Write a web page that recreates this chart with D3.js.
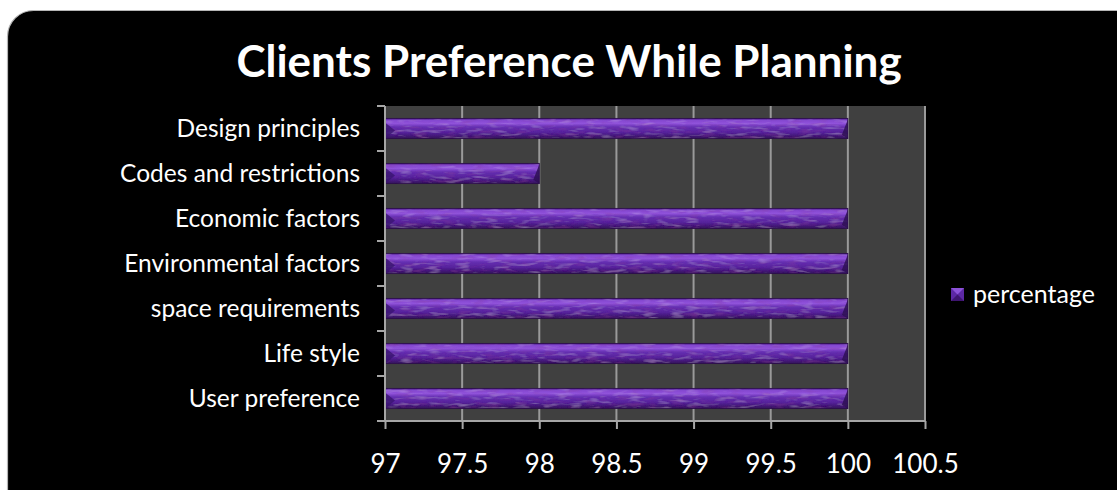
<!DOCTYPE html>
<html>
<head>
<meta charset="utf-8">
<script src="https://cdn.jsdelivr.net/npm/d3@7"></script>
<style>
  html, body { margin: 0; padding: 0; background: #ffffff; }
  svg { display: block; }
  text { font-family: Lato, "Open Sans", sans-serif; }
</style>
</head>
<body>
<svg id="chart" width="1117" height="490"></svg>
<script>
// Chart content
const titleText = "Clients Preference While Planning";
const categories = [
  "Design principles",
  "Codes and restrictions",
  "Economic factors",
  "Environmental factors",
  "space requirements",
  "Life style ",
  "User preference"
];
const percentage = [100, 98, 100, 100, 100, 100, 100];
const seriesName = "percentage";
const xTicks = [97, 97.5, 98, 98.5, 99, 99.5, 100, 100.5];

const svg = d3.select("#chart");
const W = 1117, H = 490;

// Frame: black rounded panel on white
svg.append("rect")
  .attr("x", 7.5).attr("y", 10.5)
  .attr("width", W + 20).attr("height", H + 20)
  .attr("rx", 26).attr("ry", 26)
  .attr("fill", "#000")
  .attr("stroke", "#b5b5b5").attr("stroke-width", 1.2);

// Plot area
const plot = { left: 385, right: 925, top: 106, bottom: 421 };

const x = d3.scaleLinear()
  .domain([97, 100.5])
  .range([plot.left, plot.right]);

const y = d3.scaleBand()
  .domain(categories)
  .range([plot.top, plot.bottom])
  .paddingInner(0.55)
  .paddingOuter(0.275);

const defs = svg.append("defs");

// Bar fill: bevelled purple tube
const grad = defs.append("linearGradient")
  .attr("id", "barGrad")
  .attr("x1", 0).attr("y1", 0).attr("x2", 0).attr("y2", 1);
[
  [0.00, "#4a1f84"],
  [0.10, "#8448d0"],
  [0.25, "#9052da"],
  [0.42, "#6630b2"],
  [0.70, "#55229a"],
  [1.00, "#33105a"]
].forEach(([o, c]) => grad.append("stop").attr("offset", o).attr("stop-color", c));

// Subtle mottled texture over the bars
const tex = defs.append("filter").attr("id", "mottle")
  .attr("x", 0).attr("y", 0).attr("width", 1).attr("height", 1);
tex.append("feTurbulence")
  .attr("type", "fractalNoise")
  .attr("baseFrequency", "0.07 0.3")
  .attr("numOctaves", 2)
  .attr("seed", 5)
  .attr("result", "noise");
tex.append("feColorMatrix")
  .attr("in", "noise")
  .attr("type", "matrix")
  .attr("values", "0 0 0 0 0.68  0 0 0 0 0.45  0 0 0 0 0.9  0.7 0 0 0 -0.36")
  .attr("result", "light");
tex.append("feColorMatrix")
  .attr("in", "noise")
  .attr("type", "matrix")
  .attr("values", "0 0 0 0 0.25  0 0 0 0 0.05  0 0 0 0 0.32  0 -1.0 0 0 0.5")
  .attr("result", "dark");
tex.append("feComposite")
  .attr("in", "light").attr("in2", "SourceGraphic")
  .attr("operator", "in").attr("result", "lightClip");
tex.append("feComposite")
  .attr("in", "dark").attr("in2", "SourceGraphic")
  .attr("operator", "in").attr("result", "darkClip");
tex.append("feMerge").selectAll("feMergeNode")
  .data(["SourceGraphic", "darkClip", "lightClip"])
  .join("feMergeNode").attr("in", d => d);

// Plot background
svg.append("rect")
  .attr("x", plot.left).attr("y", plot.top)
  .attr("width", plot.right - plot.left)
  .attr("height", plot.bottom - plot.top)
  .attr("fill", "#404040");

// Vertical gridlines
svg.append("g")
  .selectAll("line")
  .data(xTicks.slice(1))
  .join("line")
  .attr("x1", d => x(d)).attr("x2", d => x(d))
  .attr("y1", plot.top).attr("y2", plot.bottom)
  .attr("stroke", "#9a9a9a").attr("stroke-width", 2);

// Bars
const bars = svg.append("g");
bars.selectAll("rect.bar")
  .data(categories)
  .join("rect")
  .attr("class", "bar")
  .attr("x", x(97))
  .attr("y", d => y(d))
  .attr("width", (d, i) => x(percentage[i]) - x(97))
  .attr("height", y.bandwidth())
  .attr("fill", "url(#barGrad)")
  .attr("filter", "url(#mottle)");

// Bevelled ends
const bev = 6;
bars.selectAll("path.endR")
  .data(categories)
  .join("path")
  .attr("class", "endR")
  .attr("d", (d, i) => {
    const x1 = x(percentage[i]), y0 = y(d), h = y.bandwidth();
    return `M${x1},${y0 + 1} L${x1},${y0 + h} L${x1 - bev},${y0 + h - 4} Z`;
  })
  .attr("fill", "#2e0f55").attr("opacity", 0.85);
bars.selectAll("path.endL")
  .data(categories)
  .join("path")
  .attr("class", "endL")
  .attr("d", d => {
    const x0 = x(97), y0 = y(d), h = y.bandwidth();
    return `M${x0},${y0 + 4} L${x0 + bev + 4},${y0 + h / 2 + 2} L${x0},${y0 + h} Z`;
  })
  .attr("fill", "#3a1470").attr("opacity", 0.8);
bars.selectAll("rect.edge")
  .data(categories)
  .join("rect")
  .attr("class", "edge")
  .attr("x", x(97))
  .attr("y", d => y(d))
  .attr("width", (d, i) => x(percentage[i]) - x(97))
  .attr("height", y.bandwidth())
  .attr("fill", "none")
  .attr("stroke", "#2a0c4a").attr("stroke-width", 0.8);

// Y axis (category)
const yAxis = svg.append("g")
  .attr("transform", `translate(${plot.left},0)`);
yAxis.append("line")
  .attr("x1", 0).attr("x2", 0)
  .attr("y1", plot.top).attr("y2", plot.bottom)
  .attr("stroke", "#a6a6a6").attr("stroke-width", 2);
const step = y.step();
yAxis.selectAll("line.tk")
  .data(d3.range(categories.length + 1))
  .join("line")
  .attr("class", "tk")
  .attr("x1", -8).attr("x2", 0)
  .attr("y1", i => plot.top + i * step)
  .attr("y2", i => plot.top + i * step)
  .attr("stroke", "#a6a6a6").attr("stroke-width", 2);
yAxis.selectAll("text")
  .data(categories)
  .join("text")
  .attr("x", -25)
  .attr("y", d => y(d) + y.bandwidth() / 2)
  .attr("dy", "0.35em")
  .attr("text-anchor", "end")
  .attr("fill", "#ffffff")
  .attr("font-size", 24.5)
  .text(d => d);

// X axis (value)
const xAxisG = svg.append("g")
  .attr("transform", `translate(0,${plot.bottom})`)
  .call(d3.axisBottom(x).tickValues(xTicks).tickSize(8).tickSizeOuter(0).tickFormat(d3.format("")));
xAxisG.select(".domain").remove();
xAxisG.append("line")
  .attr("x1", plot.left - 8).attr("x2", plot.right)
  .attr("y1", 0).attr("y2", 0)
  .attr("stroke", "#a6a6a6").attr("stroke-width", 2);
xAxisG.selectAll(".tick line").attr("stroke", "#a6a6a6").attr("stroke-width", 2);
xAxisG.selectAll(".tick text")
  .attr("fill", "#ffffff")
  .attr("font-size", 26)
  .attr("font-family", "Lato, 'Open Sans', sans-serif")
  .attr("y", 43)
  .attr("dy", "0.35em");

// Title
svg.append("text")
  .attr("x", 569).attr("y", 77)
  .attr("text-anchor", "middle")
  .attr("fill", "#ffffff")
  .attr("font-weight", "bold")
  .attr("font-size", 44)
  .text(titleText);

// Legend
const lg = svg.append("g").attr("transform", "translate(951,288)");
lg.append("rect")
  .attr("width", 13).attr("height", 13)
  .attr("fill", "#5c28a4");
lg.append("path")
  .attr("d", "M0,0 L13,0 L6.5,6.5 Z")
  .attr("fill", "#8c52d8");
lg.append("path")
  .attr("d", "M0,13 L13,13 L6.5,6.5 Z")
  .attr("fill", "#3e1570");
lg.append("text")
  .attr("x", 22).attr("y", 6.5)
  .attr("dy", "0.35em")
  .attr("fill", "#ffffff")
  .attr("font-size", 25)
  .text(seriesName);
</script>
</body>
</html>
